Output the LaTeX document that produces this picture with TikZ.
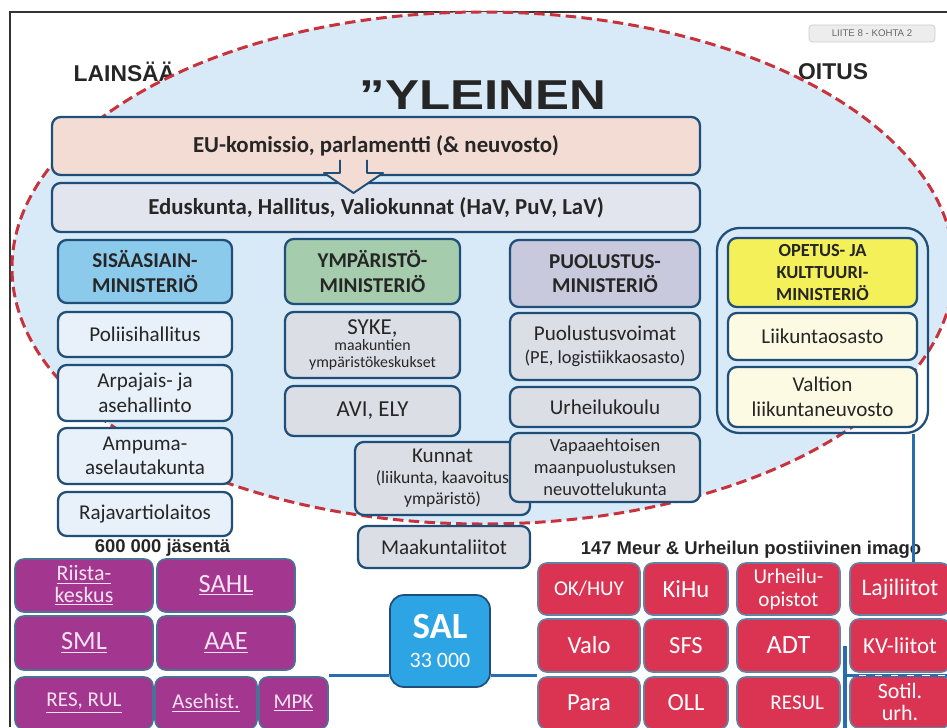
\documentclass[tikz,border=0pt]{standalone}
\usepackage{fontspec}
\setmainfont{Carlito}
\newfontfamily\arialfont{Liberation Sans}
\usetikzlibrary{calc}

\definecolor{boxblue}{RGB}{31,78,121}
\definecolor{ovalfill}{RGB}{216,234,247}
\definecolor{ovalred}{RGB}{200,50,60}
\definecolor{eufill}{RGB}{242,220,212}
\definecolor{edfill}{RGB}{226,229,237}
\definecolor{sisfill}{RGB}{140,202,236}
\definecolor{sissub}{RGB}{232,241,249}
\definecolor{ympfill}{RGB}{166,204,174}
\definecolor{graysub}{RGB}{219,222,229}
\definecolor{puofill}{RGB}{200,201,220}
\definecolor{okmfill}{RGB}{244,240,90}
\definecolor{okmsub}{RGB}{252,250,226}
\definecolor{salfill}{RGB}{45,165,228}
\definecolor{purpfill}{RGB}{163,55,143}
\definecolor{purptext}{RGB}{248,226,242}
\definecolor{redfill}{RGB}{218,52,82}
\definecolor{linkblue}{RGB}{40,110,175}

\tikzset{
  box/.style={draw=boxblue, line width=1.3pt, rounded corners=5pt, align=center, inner sep=1pt, text=black!85},
  head/.style={box, font=\bfseries\fontsize{12}{14}\selectfont},
  sub/.style={box, font=\fontsize{12}{14}\selectfont},
  wide/.style={box, minimum width=12.96cm, font=\bfseries\fontsize{13}{15}\selectfont},
  col1/.style={minimum width=3.48cm},
  col2/.style={minimum width=3.50cm},
  col3/.style={minimum width=3.80cm},
  col4/.style={minimum width=3.78cm},
  purpbox/.style={draw=boxblue!80, fill=purpfill, line width=0.9pt, rounded corners=5pt, align=center, text=purptext, inner sep=1pt},
  redbox/.style={draw=boxblue!70, fill=redfill, line width=0.9pt, rounded corners=5pt, align=center, text=white, inner sep=1pt},
  link/.style={draw=linkblue, line width=1.8pt},
  label/.style={font=\arialfont\bfseries\fontsize{10.5}{12}\selectfont, text=black!85},
}

\begin{document}
\begin{tikzpicture}
  \useasboundingbox (0,0) rectangle (18.94,14.54);

  %frame
  \draw[line width=0.8pt,black!80] (0.2,0) -- (0.2,14.30) -- (18.94,14.30);
  \node[draw=black!20, fill=black!7, rounded corners=2pt, minimum width=2.52cm, minimum height=0.34cm, inner sep=0pt,
        font=\arialfont\fontsize{5.5}{6}\selectfont, text=black!60] (liite) at (17.44,13.87) {LIITE 8 - KOHTA 2};

  \node[anchor=west, font=\arialfont\bfseries\fontsize{13}{15}\selectfont, text=black!85] (lain) at (1.35,13.10) {LAINSÄÄ};
  \node[anchor=west, font=\arialfont\bfseries\fontsize{13}{15}\selectfont, text=black!85] (oitus) at (15.84,13.10) {OITUS};

  %oval
  \draw[ovalred, line width=1.7pt, dash pattern=on 6pt off 3pt, fill=ovalfill] (9.66,9.18) ellipse (9.42cm and 5.12cm);
  \node[font=\arialfont\bfseries\fontsize{29}{30}\selectfont, text=black!85] (yleinen) at (9.66,12.64) {\scalebox{1}[0.82]{”YLEINEN}};

  %EU, eduskunta
  \node[wide, fill=eufill, minimum height=1.16cm] (eu) at (7.52,11.62) {EU-komissio, parlamentti (\& neuvosto)};
  \node[wide, fill=edfill, minimum height=0.98cm] (edus) at (7.52,10.39) {Eduskunta, Hallitus, Valiokunnat (HaV, PuV, LaV)};
  \draw[boxblue, line width=1.1pt, fill=eufill, line join=round] (6.80,11.34) -- (6.80,11.08) -- (6.48,11.08) -- (7.07,10.68)
        -- (7.66,11.08) -- (7.34,11.08) -- (7.34,11.34);

  %sisaasiain
  \node[head, col1, fill=sisfill, minimum height=1.26cm] (sisHead) at (2.90,9.11) {SISÄASIAIN-\\MINISTERIÖ};
  \node[sub, col1, fill=sissub, minimum height=0.90cm] (poliisi) at (2.90,7.85) {Poliisihallitus};
  \node[sub, col1, fill=sissub, minimum height=1.12cm] (arpa) at (2.90,6.68) {Arpajais- ja\\asehallinto};
  \node[sub, col1, fill=sissub, minimum height=1.12cm] (ampuma) at (2.90,5.42) {Ampuma-\\aselautakunta};
  \node[sub, col1, fill=sissub, minimum height=0.88cm] (raja) at (2.90,4.26) {Rajavartiolaitos};

  %ymparisto
  \node[head, col2, fill=ympfill, minimum height=1.30cm] (ympHead) at (7.45,9.11) {YMPÄRISTÖ-\\MINISTERIÖ};
  \node[sub, col2, fill=graysub, minimum height=1.32cm, font=\fontsize{9}{10}\selectfont] (syke) at (7.45,7.64)
        {{\fontsize{13}{13}\selectfont SYKE,}\\[-1pt]maakuntien\\ympäristökeskukset};
  \node[sub, col2, fill=graysub, minimum height=1.00cm, font=\fontsize{13}{15}\selectfont] (avi) at (7.45,6.32) {AVI, ELY};
  \node[sub, col2, fill=graysub, minimum height=1.46cm, font=\fontsize{10}{12}\selectfont] (kunnat) at (8.85,4.97)
        {{\fontsize{12}{12}\selectfont Kunnat}\\(liikunta, kaavoitus\\ympäristö)};
  \node[sub, fill=graysub, minimum width=3.44cm, minimum height=0.84cm] (maak) at (8.88,3.60) {Maakuntaliitot};

  %puolustus
  \node[head, col3, fill=puofill, minimum height=1.34cm] (puoHead) at (12.10,9.07) {PUOLUSTUS-\\MINISTERIÖ};
  \node[sub, col3, fill=graysub, minimum height=1.34cm, font=\fontsize{10.5}{13}\selectfont] (pv) at (12.10,7.61)
        {{\fontsize{12}{12}\selectfont Puolustusvoimat}\\(PE, logistiikkaosasto)};
  \node[sub, col3, fill=graysub, minimum height=0.80cm] (urhk) at (12.10,6.40) {Urheilukoulu};
  \node[sub, col3, fill=graysub, minimum height=1.38cm, font=\fontsize{10.5}{12.5}\selectfont] (vapaa) at (12.10,5.19)
        {Vapaaehtoisen\\maanpuolustuksen\\neuvottelukunta};

  %opetus
  \node[draw=boxblue, line width=1.3pt, rounded corners=0.45cm, minimum width=4.22cm, minimum height=4.10cm] (okm) at (16.45,7.93) {};
  \node[head, col4, fill=okmfill, minimum height=1.38cm, font=\bfseries\fontsize{10.5}{12.5}\selectfont] (okmHead) at (16.45,9.09)
        {OPETUS- JA\\KULTTUURI-\\MINISTERIÖ};
  \node[sub, col4, fill=okmsub, minimum height=0.94cm] (liik) at (16.45,7.81) {Liikuntaosasto};
  \node[sub, col4, fill=okmsub, minimum height=1.20cm] (vln) at (16.45,6.60) {Valtion\\liikuntaneuvosto};

  %purple group
  \node[label] (jasenet) at (3.25,3.58) {600 000 jäsentä};
  \node[purpbox, minimum width=2.76cm, minimum height=1.06cm, font=\fontsize{12.5}{12.5}\selectfont] (riista) at (1.68,2.83)
        {\underline{Riista-}\\\underline{keskus}};
  \node[purpbox, minimum width=2.76cm, minimum height=1.06cm, font=\fontsize{15}{17}\selectfont] (sahl) at (4.52,2.83) {\underline{SAHL}};
  \node[purpbox, minimum width=2.76cm, minimum height=1.08cm, font=\fontsize{15}{17}\selectfont] (sml) at (1.68,1.68) {\underline{SML}};
  \node[purpbox, minimum width=2.76cm, minimum height=1.08cm, font=\fontsize{15}{17}\selectfont] (aae) at (4.52,1.68) {\underline{AAE}};
  \node[purpbox, minimum width=2.76cm, minimum height=1.04cm, font=\fontsize{12}{14}\selectfont] (res) at (1.68,0.48) {\underline{RES, RUL}};
  \node[purpbox, minimum width=2.04cm, minimum height=1.04cm, font=\fontsize{12}{14}\selectfont] (asehist) at (4.12,0.48) {\underline{Asehist.}};
  \node[purpbox, minimum width=1.38cm, minimum height=1.04cm, font=\fontsize{12}{14}\selectfont] (mpk) at (5.87,0.48) {\underline{MPK}};

  %SAL
  \node[draw=boxblue, fill=salfill, line width=1pt, rounded corners=8pt, minimum width=2.0cm, minimum height=1.84cm,
        align=center, text=white, inner sep=1pt, font=\fontsize{12.5}{14}\selectfont] (sal) at (8.80,1.72)
        {{\bfseries\fontsize{21}{22}\selectfont SAL}\\[3pt]33 000};

  %red group
  \node[label] (imago) at (15.02,3.54) {147 Meur \& Urheilun postiivinen imago};
  \node[redbox, minimum width=2.04cm, minimum height=1.04cm, font=\fontsize{12}{13}\selectfont] (okhuy) at (11.78,2.76) {OK/HUY};
  \node[redbox, minimum width=1.68cm, minimum height=1.04cm, font=\fontsize{14}{15}\selectfont] (kihu) at (13.72,2.76) {KiHu};
  \node[redbox, minimum width=2.04cm, minimum height=1.06cm, font=\fontsize{14}{15}\selectfont] (valo) at (11.78,1.63) {Valo};
  \node[redbox, minimum width=1.68cm, minimum height=1.06cm, font=\fontsize{14}{15}\selectfont] (sfs) at (13.72,1.63) {SFS};
  \node[redbox, minimum width=2.04cm, minimum height=1.04cm, font=\fontsize{14}{15}\selectfont] (para) at (11.78,0.48) {Para};
  \node[redbox, minimum width=1.68cm, minimum height=1.04cm, font=\fontsize{14}{15}\selectfont] (oll) at (13.72,0.48) {OLL};
  \node[redbox, minimum width=2.06cm, minimum height=1.04cm, font=\fontsize{12}{13}\selectfont] (opistot) at (15.77,2.76) {Urheilu-\\opistot};
  \node[redbox, minimum width=2.06cm, minimum height=1.06cm, font=\fontsize{15}{16}\selectfont] (adt) at (15.77,1.63) {ADT};
  \node[redbox, minimum width=2.06cm, minimum height=1.04cm, font=\fontsize{12}{13}\selectfont] (resul) at (15.77,0.48) {\hspace*{0.35cm}RESUL};
  \node[redbox, minimum width=2.00cm, minimum height=1.04cm, font=\fontsize{13.5}{15}\selectfont] (laji) at (18.00,2.76) {Lajiliitot};
  \node[redbox, minimum width=2.00cm, minimum height=1.06cm, font=\fontsize{13}{14}\selectfont] (kv) at (18.00,1.63) {KV-liitot};
  \node[redbox, minimum width=2.00cm, minimum height=1.04cm, font=\fontsize{12.5}{12.5}\selectfont] (sotil) at (18.00,0.50) {Sotil.\\urh.};

  %links
  \coordinate (salLine) at ($(sal.south)+(0,0.24)$);
  \coordinate (gapTop) at ($(adt.east)!0.5!(kv.west)$);
  \draw[link] (mpk.east |- salLine) -- (sal.west |- salLine);
  \draw[link] (sal.east |- salLine) -- (valo.west |- salLine);
  \draw[link] (gapTop) -- (gapTop |- resul.south);
  \draw[link] (gapTop |- salLine) -- (kv.east |- salLine);
  \draw[white, line width=0.6pt, dash pattern=on 4pt off 5pt] ([xshift=0.2cm]kv.west |- salLine) -- (kv.east |- salLine);
  \draw[link] ([xshift=-0.32cm]okm.south east) -- ([xshift=-0.32cm]okm.south east |- laji.north);

\end{tikzpicture}
\end{document}
